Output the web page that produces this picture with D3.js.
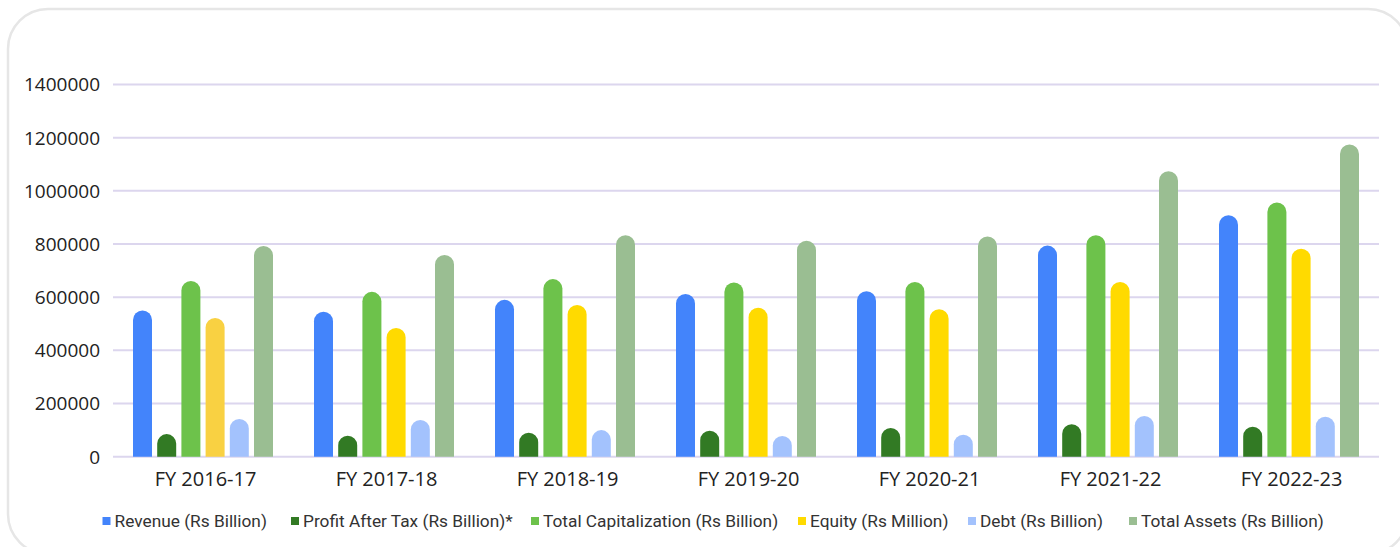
<!DOCTYPE html>
<html>
<head>
<meta charset="utf-8">
<script src="https://cdn.jsdelivr.net/npm/d3@7"></script>
<style>
  body { margin: 0; background: #fff; overflow: hidden; }
  svg { display: block; }
</style>
</head>
<body>
<div id="chart"></div>
<script>
// DATA
const years = ["FY 2016-17", "FY 2017-18", "FY 2018-19", "FY 2019-20", "FY 2020-21", "FY 2021-22", "FY 2022-23"];
const seriesNames = ["Revenue (Rs Billion)", "Profit After Tax (Rs Billion)*", "Total Capitalization (Rs Billion)", "Equity (Rs Million)", "Debt (Rs Billion)", "Total Assets (Rs Billion)"];
const revenue = [550000, 545000, 590000, 612000, 622000, 794000, 908000];
const profitAfterTax = [85000, 79000, 90000, 98000, 108000, 122000, 113000];
const totalCapitalization = [661000, 620000, 668000, 655000, 657000, 833000, 956000];
const equity = [522000, 484000, 571000, 560000, 555000, 657000, 782000];
const debt = [142000, 138000, 100000, 78000, 83000, 153000, 150000];
const totalAssets = [793000, 759000, 833000, 812000, 828000, 1074000, 1174000];
const yTicks = [0, 200000, 400000, 600000, 800000, 1000000, 1200000, 1400000];

const allSeries = [revenue, profitAfterTax, totalCapitalization, equity, debt, totalAssets];
const colors = ["#4384fb", "#327a24", "#6dc24b", "#ffda00", "#a3c2fd", "#9abe92"];
// first equity bar is a lighter gold in the original
const pointColor = (si, yi) => (si === 3 && yi === 0) ? "#f9d142" : colors[si];

const W = 1400, H = 547;
const svg = d3.select("#chart").append("svg").attr("width", W).attr("height", H);

// card border
svg.append("rect")
    .attr("x", 8).attr("y", 9).attr("width", 1400).attr("height", 545)
    .attr("rx", 40).attr("ry", 40)
    .attr("fill", "#fff").attr("stroke", "#e6e6e6").attr("stroke-width", 2.5);

const y = d3.scaleLinear().domain([0, 1400000]).range([456.7, 84.5]);
const x0 = d3.scaleBand().domain(years).range([113, 1380]);
const x1 = d3.scaleBand().domain(d3.range(seriesNames.length)).range([20, 160]).paddingInner(0.215);

// gridlines + labels
const grid = svg.append("g");
grid.selectAll("line").data(yTicks).enter().append("line")
    .attr("x1", 113).attr("x2", 1379)
    .attr("y1", d => y(d)).attr("y2", d => y(d))
    .attr("stroke", "#dcd6ee").attr("stroke-width", 2);
grid.selectAll("text").data(yTicks).enter().append("text")
    .attr("x", 100).attr("y", d => y(d)).attr("dy", "0.36em")
    .attr("text-anchor", "end")
    .style("font-family", "'Open Sans', sans-serif").style("font-size", "19px").attr("fill", "#222")
    .text(d => d);

// bars with rounded tops
const barPath = (bx, by, bw, base) => {
    const r = bw / 2;
    return `M${bx},${base}V${by + r}A${r},${r} 0 0 1 ${bx + bw},${by + r}V${base}Z`;
};

const groups = svg.selectAll(".grp").data(years).enter().append("g")
    .attr("class", "grp")
    .attr("transform", d => `translate(${x0(d)},0)`);

groups.selectAll("path")
    .data((d, yi) => allSeries.map((s, si) => ({ si, yi, v: s[yi] })))
    .enter().append("path")
    .attr("d", d => barPath(x1(d.si), y(d.v), x1.bandwidth(), y(0)))
    .attr("fill", d => pointColor(d.si, d.yi));

// x labels
svg.append("g").selectAll("text").data(years).enter().append("text")
    .attr("x", d => x0(d) + x0.bandwidth() / 2 + 2).attr("y", 486)
    .attr("text-anchor", "middle")
    .style("font-family", "'Open Sans', sans-serif").style("font-size", "20px").attr("fill", "#222")
    .text(d => d);

// legend
const legendX = [102.5, 291, 531, 798, 968, 1129];
const legend = svg.append("g").selectAll("g").data(seriesNames).enter().append("g")
    .attr("transform", (d, i) => `translate(${legendX[i]},0)`);
legend.append("rect").attr("x", 0).attr("y", 517).attr("width", 8).attr("height", 8)
    .attr("fill", (d, i) => colors[i]);
legend.append("text").attr("x", 12).attr("y", 527)
    .style("font-family", "Roboto, sans-serif").style("font-size", "17.3px").attr("fill", "#333")
    .text(d => d);
</script>
</body>
</html>
